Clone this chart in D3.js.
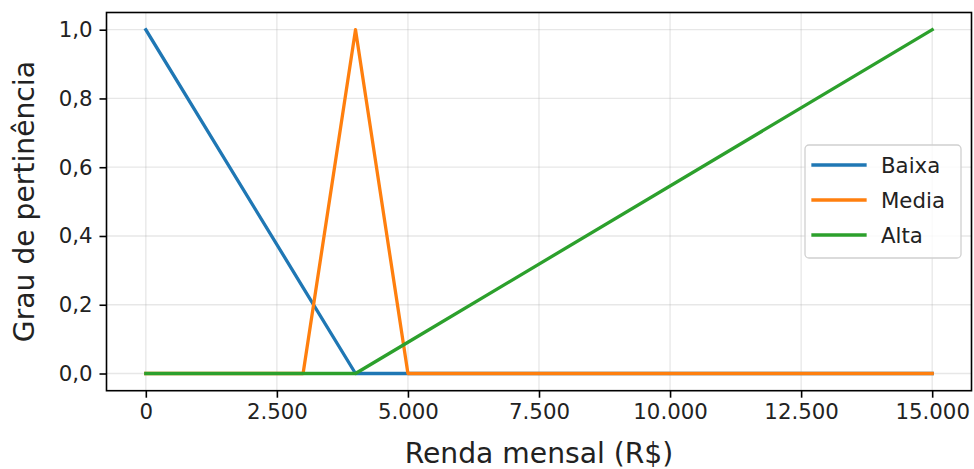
<!DOCTYPE html>
<html>
<head>
<meta charset="utf-8">
<script src="https://cdn.jsdelivr.net/npm/d3@7"></script>
<style>
  html, body { margin: 0; padding: 0; background: #fff; }
  svg { display: block; font-family: "DejaVu Sans", sans-serif; }
</style>
</head>
<body>
<svg id="chart" width="974" height="469"></svg>
<script>
// Funções de pertinência da renda mensal
const renda = [0, 3000, 4000, 5000, 15000];
const baixa = [1, 0.25, 0, 0, 0];
const media = [0, 0, 1, 0, 0];
const alta  = [0, 0, 0, 1 / 11, 1];

const seriesNames  = ["Baixa", "Media", "Alta"];
const seriesColors = ["#1f77b4", "#ff7f0e", "#2ca02c"];
const xTicks = [0, 2500, 5000, 7500, 10000, 12500, 15000];
const yTicks = [0, 0.2, 0.4, 0.6, 0.8, 1.0];

const seriesValues = [baixa, media, alta];

const svg = d3.select("#chart");
const plotL = 106.5, plotR = 971.5, plotT = 12.5, plotB = 390.7;

const x = d3.scaleLinear().domain([-750, 15750]).range([plotL, plotR]);
const y = d3.scaleLinear().domain([-0.05, 1.05]).range([plotB, plotT]);

const fmtX = v => v === 0 ? "0" : d3.format(",")(v).replace(/,/g, ".");
const fmtY = v => d3.format(".1f")(v).replace(".", ",");

// grade
const grid = svg.append("g");
grid.selectAll("line.gx").data(xTicks).join("line")
  .attr("x1", d => x(d)).attr("x2", d => x(d))
  .attr("y1", plotT).attr("y2", plotB)
  .attr("stroke", "#b0b0b0").attr("stroke-opacity", 0.3).attr("stroke-width", 1.3);
grid.selectAll("line.gy").data(yTicks).join("line")
  .attr("y1", d => y(d)).attr("y2", d => y(d))
  .attr("x1", plotL).attr("x2", plotR)
  .attr("stroke", "#b0b0b0").attr("stroke-opacity", 0.3).attr("stroke-width", 1.3);

// curvas
const line = d3.line().x(d => x(d[0])).y(d => y(d[1]));
seriesValues.forEach((vals, i) => {
  svg.append("path")
    .datum(renda.map((r, j) => [r, vals[j]]))
    .attr("d", line)
    .attr("fill", "none")
    .attr("stroke", seriesColors[i])
    .attr("stroke-width", 3.3)
    .attr("stroke-linejoin", "round")
    .attr("stroke-linecap", "square");
});

// eixos
const xAxis = d3.axisBottom(x).tickValues(xTicks).tickFormat(fmtX).tickSize(7).tickPadding(6);
const yAxis = d3.axisLeft(y).tickValues(yTicks).tickFormat(fmtY).tickSize(7).tickPadding(7);

const gx = svg.append("g").attr("transform", `translate(0,${plotB})`).call(xAxis);
const gy = svg.append("g").attr("transform", `translate(${plotL},0)`).call(yAxis);
[gx, gy].forEach(g => {
  g.select(".domain").remove();
  g.selectAll(".tick line").attr("stroke", "#000").attr("stroke-width", 1.6);
  g.selectAll(".tick text").attr("fill", "#222").style("font-size", "21.3px").style("font-family", "DejaVu Sans");
});

// moldura
svg.append("rect")
  .attr("x", plotL).attr("y", plotT)
  .attr("width", plotR - plotL).attr("height", plotB - plotT)
  .attr("fill", "none").attr("stroke", "#000").attr("stroke-width", 1.6);

// rótulos dos eixos
svg.append("text")
  .attr("x", (plotL + plotR) / 2).attr("y", 463)
  .attr("text-anchor", "middle")
  .style("font-size", "28.2px").attr("fill", "#222")
  .text("Renda mensal (R$)");
svg.append("text")
  .attr("transform", `translate(34,${(plotT + plotB) / 2}) rotate(-90)`)
  .attr("text-anchor", "middle")
  .style("font-size", "28.2px").attr("fill", "#222")
  .text("Grau de pertinência");

// legenda
const lg = svg.append("g");
lg.append("rect")
  .attr("x", 805).attr("y", 145).attr("width", 156).attr("height", 113)
  .attr("rx", 4).attr("fill", "#fff").attr("fill-opacity", 0.8)
  .attr("stroke", "#d0d0d0").attr("stroke-width", 1.3);
seriesNames.forEach((name, i) => {
  const yy = 165 + i * 35;
  lg.append("line")
    .attr("x1", 813).attr("x2", 865).attr("y1", yy).attr("y2", yy)
    .attr("stroke", seriesColors[i]).attr("stroke-width", 3.3)
    .attr("stroke-linecap", "square");
  lg.append("text")
    .attr("x", 881).attr("y", yy).attr("dy", "0.36em")
    .style("font-size", "21.3px").attr("fill", "#222")
    .text(name);
});
</script>
</body>
</html>
